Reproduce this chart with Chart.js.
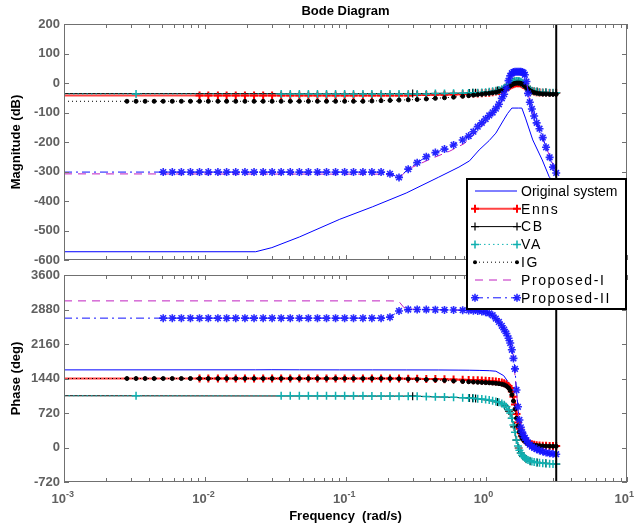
<!DOCTYPE html>
<html>
<head>
<meta charset="utf-8">
<title>Bode Diagram</title>
<script src="https://cdn.jsdelivr.net/npm/chart.js@4.4.1/dist/chart.umd.min.js"></script>
<style>
  html, body { margin: 0; padding: 0; background: #fff; }
  #wrap { position: relative; width: 636px; height: 528px; }
  #wrap canvas { position: absolute; left: 0; top: 0; }
</style>
</head>
<body>
<div id="wrap">
  <canvas id="magChart" width="636" height="528"></canvas>
  <canvas id="phaseChart" width="636" height="528"></canvas>
</div>
<script>
// frequency grid (rad/s) of the reduced models, denser around the resonance
const freq = [
  0.001, 0.0028, 0.00325, 0.00377, 0.00437, 0.00507, 0.00588, 0.00682, 0.00791, 0.00918,
  0.0106, 0.0124, 0.0143, 0.0166, 0.0193, 0.0224, 0.026, 0.0301, 0.0349, 0.0405,
  0.047, 0.0545, 0.0632, 0.0733, 0.085, 0.0986, 0.114, 0.133, 0.154, 0.179,
  0.207, 0.24, 0.279, 0.323, 0.375, 0.435, 0.505, 0.586, 0.68,
  0.75, 0.81, 0.87, 0.93, 0.99, 1.05, 1.11, 1.17, 1.23, 1.29,
  1.34, 1.39, 1.44, 1.48, 1.52, 1.56, 1.6, 1.64, 1.68, 1.72,
  1.76, 1.8, 1.84, 1.88, 1.93, 1.98, 2.04, 2.11, 2.19, 2.28,
  2.39, 2.52, 2.66, 2.82, 2.98, 3.14
];

const ennsMag = [
  -42, -42, -42, -42, -42, -42, -42, -42, -42, -42,
  -42, -42, -42, -42, -42, -42, -42, -42, -42, -42,
  -42, -42, -42, -42, -42, -42, -42, -42, -42, -42,
  -42, -42, -42, -41, -41, -40, -40, -39, -38,
  -37, -36, -36, -35, -34, -33, -31, -29, -27, -24,
  -21, -17, -13, -9, -6, -4, -2, -1, -1, -1,
  -2, -4, -7, -11, -16, -20, -24, -27, -29, -31,
  -32, -33, -33, -34, -34, -34
];
const ennsPhase = [
  1440, 1440, 1440, 1440, 1440, 1440, 1440, 1440, 1440, 1440,
  1440, 1440, 1440, 1440, 1440, 1440, 1440, 1440, 1440, 1440,
  1440, 1440, 1440, 1440, 1440, 1440, 1440, 1440, 1440, 1440,
  1440, 1438, 1436, 1434, 1431, 1428, 1424, 1420, 1415,
  1410, 1406, 1402, 1398, 1393, 1388, 1382, 1375, 1366, 1354,
  1340, 1318, 1285, 1240, 1170, 1060, 900, 700, 520, 390,
  300, 235, 185, 150, 120, 98, 80, 66, 55, 47,
  41, 37, 34, 32, 30, 30
];

const igMag = [
  -62, -62, -62, -62, -62, -62, -62, -62, -62, -62,
  -62, -62, -62, -62, -62, -62, -62, -62, -62, -62,
  -62, -62, -62, -62, -62, -62, -62, -62, -61, -60,
  -59, -58, -57, -56, -54, -52, -50, -48, -45,
  -43, -41, -39, -38, -36, -35, -33, -31, -28, -25,
  -22, -18, -14, -10, -6, -3, -1, 0, 0, 0,
  -1, -3, -6, -10, -15, -20, -25, -29, -32, -34,
  -36, -37, -37, -38, -38, -38
];
const igPhase = [
  1440, 1440, 1440, 1440, 1440, 1440, 1440, 1440, 1440, 1440,
  1440, 1440, 1440, 1440, 1440, 1440, 1440, 1440, 1440, 1440,
  1440, 1440, 1440, 1440, 1440, 1440, 1440, 1440, 1440, 1440,
  1438, 1435, 1430, 1425, 1418, 1410, 1400, 1390, 1378,
  1372, 1367, 1362, 1358, 1354, 1350, 1345, 1340, 1333, 1322,
  1308, 1285, 1245, 1190, 1100, 970, 800, 610, 450, 330,
  250, 195, 155, 125, 100, 82, 68, 57, 48, 42,
  37, 33, 30, 28, 26, 25
];

const vaMag = [
  -37, -37, -37, -37, -37, -37, -37, -37, -37, -37,
  -37, -37, -37, -37, -37, -37, -37, -37, -37, -37,
  -37, -37, -37, -37, -37, -37, -37, -37, -37, -37,
  -37, -37, -37, -37, -37, -36, -36, -35, -35,
  -34, -33, -33, -32, -31, -30, -28, -26, -24, -21,
  -17, -13, -8, -3, 1, 4, 6, 7, 7, 6,
  4, 1, -3, -8, -14, -19, -23, -26, -28, -30,
  -31, -32, -32, -33, -33, -33
];
const vaPhase = [
  1080, 1080, 1080, 1080, 1080, 1080, 1080, 1080, 1080, 1080,
  1080, 1080, 1080, 1080, 1080, 1080, 1080, 1080, 1080, 1080,
  1080, 1080, 1080, 1080, 1080, 1080, 1079, 1078, 1077, 1076,
  1074, 1072, 1070, 1067, 1064, 1060, 1055, 1048, 1040,
  1034, 1028, 1020, 1012, 1002, 990, 976, 960, 942, 920,
  890, 850, 790, 720, 610, 470, 320, 155, 30, -55,
  -115, -160, -195, -220, -245, -262, -277, -290, -302, -312,
  -320, -327, -333, -338, -342, -345
];

const prop2Mag = [
  -302, -302, -302, -302, -302, -302, -302, -302, -302, -302,
  -302, -302, -302, -302, -302, -302, -302, -302, -302, -302,
  -302, -302, -302, -302, -302, -302, -302, -302, -302, -302,
  -308, -320, -292, -270, -250, -236, -224, -210, -193,
  -180, -165, -148, -135, -122, -110, -100, -87, -72, -52,
  -38, -18, 8, 24, 33, 37, 38, 38, 38, 38,
  38, 37, 35, 28, 5, -35, -65, -88, -112, -135,
  -155, -185, -218, -252, -285, -305
];
const prop2Phase = [
  2700, 2700, 2700, 2700, 2700, 2700, 2700, 2700, 2700, 2700,
  2700, 2700, 2700, 2700, 2700, 2700, 2700, 2700, 2700, 2700,
  2700, 2700, 2700, 2700, 2700, 2700, 2700, 2700, 2700, 2700,
  2720, 2850, 2880, 2880, 2878, 2875, 2872, 2870, 2865,
  2860, 2855, 2850, 2840, 2825, 2800, 2760, 2690, 2620, 2540,
  2460, 2380, 2280, 2180, 2040, 1860, 1640, 1200, 850, 575,
  420, 320, 250, 200, 150, 100, 60, 20, -5, -35,
  -60, -85, -105, -120, -132, -140
];

// CB model: coarse grid
const cbFreq = [0.001, 0.3, 0.76, 0.8, 0.84, 1.2, 1.35, 1.45, 1.52, 1.58, 1.64, 1.7, 1.76, 1.83, 1.92, 2.05, 2.3, 2.65, 3.14];
const cbMag = [-36, -36, -34, -33, -33, -25, -16, -6, 1, 5, 6, 5, 2, -4, -13, -22, -29, -32, -33];
const cbPhase = [1080, 1072, 1034, 1028, 1022, 950, 870, 760, 610, 430, 155, -10, -115, -185, -240, -285, -312, -330, -345];

// Proposed-I model
const prop1Freq = [0.001, 0.2, 0.22, 0.24, 0.26, 0.3, 0.4, 0.55, 0.7, 0.85, 1.0, 1.15, 1.3, 1.45, 1.55, 1.7, 1.85, 1.95, 2.05, 2.3, 2.6, 2.9, 3.14];
const prop1Mag = [-308, -309, -313, -324, -306, -285, -258, -231, -205, -165, -130, -98, -58, 15, 34, 36, 32, -5, -72, -142, -205, -262, -308];
const prop1Phase = [3060, 3060, 3058, 3045, 2920, 2885, 2878, 2872, 2864, 2850, 2825, 2700, 2520, 2260, 1950, 650, 250, 150, 70, -20, -90, -125, -140];

// full-order system
const origFreq = [0.001, 0.023, 0.03, 0.047, 0.091, 0.155, 0.27, 0.46, 0.64, 0.76, 0.89, 1.05, 1.17, 1.33, 1.42, 1.52, 1.6, 1.7, 1.79, 1.9, 2.14, 2.5, 2.8, 3.14];
const origMag = [-572, -572, -558, -522, -462, -420, -373, -319, -285, -264, -227, -195, -170, -125, -103, -85, -85, -85, -85, -119, -193, -261, -318, -345];
const origPhase = [1620, 1621, 1623, 1621, 1620, 1620, 1619, 1618, 1615, 1613, 1609, 1603, 1592, 1500, 1380, 1150, 850, 420, 220, 90, -40, -110, -140, -160];

const magTicks = [-600, -500, -400, -300, -200, -100, 0, 100, 200];
const phaseTicks = [-720, 0, 720, 1440, 2160, 2880, 3600];
const decadeExps = [-3, -2, -1, 0, 1];
const minorMults = [2, 3, 4, 5, 6, 7, 8, 9];
const nyquistFreq = Math.PI;

const FONT = "'Liberation Sans', Arial, Helvetica, sans-serif";
Chart.defaults.font.family = FONT;

// line / marker look of each model, in plotting order
const models = [
  { label: 'Original system', f: origFreq, mag: origMag, ph: origPhase,
    color: '#0000ff', width: 1, dash: [], marker: null },
  { label: 'Enns', f: freq, mag: ennsMag, ph: ennsPhase,
    color: 'rgba(255,20,20,0.8)', width: 2, dash: [], marker: 'cross', mColor: '#ff0000', mSize: 4, mWidth: 2,
    showMark: f => f >= 0.009 },
  { label: 'CB', f: cbFreq, mag: cbMag, ph: cbPhase,
    color: '#000000', width: 1, dash: [], marker: 'cross', mColor: '#000000', mSize: 4, mWidth: 1.2,
    showMark: f => f > 0.2 },
  { label: 'VA', f: freq, mag: vaMag, ph: vaPhase,
    color: '#10b4b4', width: 1, dash: [1.5, 3], marker: 'cross', mColor: '#10b0b0', mSize: 4, mWidth: 1.5,
    showMark: f => (f > 0.003 && f < 0.0034) || f >= 0.034 },
  { label: 'IG', f: freq, mag: igMag, ph: igPhase,
    color: '#000000', width: 1, dash: [1, 3], marker: 'circle', mColor: '#000000', mSize: 2, mWidth: 0,
    showMark: f => f >= 0.0027 },
  { label: 'Proposed-I', f: prop1Freq, mag: prop1Mag, ph: prop1Phase,
    color: '#c020c0', width: 1, dash: [8, 6], marker: null },
  { label: 'Proposed-II', f: freq, mag: prop2Mag, ph: prop2Phase,
    color: '#1010ff', width: 1, dash: [8, 4, 2, 4], marker: 'star', mColor: 'rgba(20,20,255,0.9)', mSize: 4, mWidth: 1.6,
    showMark: f => f >= 0.005 }
];

function buildDatasets(key) {
  return models.map((m, i) => ({
    label: m.label,
    data: m.f.map((f, j) => ({ x: f, y: m[key][j] })),
    borderColor: m.color,
    borderWidth: m.width,
    borderDash: m.dash,
    tension: 0,
    fill: false,
    order: models.length - i,
    pointStyle: m.marker || 'circle',
    pointBorderColor: m.mColor || m.color,
    pointBackgroundColor: m.mColor || m.color,
    pointBorderWidth: m.mWidth || 1,
    pointRadius: c => (m.marker && c.type === 'data' && m.showMark(c.raw.x)) ? m.mSize : 0
  }));
}

function strokeLine(ctx, x1, y1, x2, y2) {
  ctx.beginPath(); ctx.moveTo(x1, y1); ctx.lineTo(x2, y2); ctx.stroke();
}

// MATLAB-style box: inward ticks on all sides plus the Nyquist frequency line
const axesBox = {
  id: 'axesBox',
  afterDatasetsDraw(chart) {
    const { ctx, chartArea: a, scales: { x, y } } = chart;
    ctx.save();
    ctx.setLineDash([]);
    const xn = x.getPixelForValue(nyquistFreq);
    ctx.strokeStyle = '#000'; ctx.lineWidth = 2;
    strokeLine(ctx, xn, a.top, xn, a.bottom);

    ctx.strokeStyle = '#707070'; ctx.lineWidth = 1;
    ctx.strokeRect(a.left + 0.5, a.top + 0.5, a.width - 1, a.height - 1);
    y.ticks.forEach(t => {
      const py = Math.round(y.getPixelForValue(t.value)) + 0.5;
      strokeLine(ctx, a.left, py, a.left + 5, py);
      strokeLine(ctx, a.right - 5, py, a.right, py);
    });
    decadeExps.forEach(e => {
      const base = Math.pow(10, e);
      [1].concat(e < 1 ? minorMults : []).forEach(m => {
        const px = Math.round(x.getPixelForValue(base * m)) + 0.5;
        const len = m === 1 ? 5 : 4;
        strokeLine(ctx, px, a.top, px, a.top + len);
        strokeLine(ctx, px, a.bottom - len, px, a.bottom);
      });
    });
    ctx.restore();
  }
};

function drawYTitle(ctx, text, x, cy) {
  ctx.save();
  ctx.translate(x, cy);
  ctx.rotate(-Math.PI / 2);
  ctx.font = 'bold 13px ' + FONT;
  ctx.fillStyle = '#000';
  ctx.textAlign = 'center';
  ctx.textBaseline = 'alphabetic';
  ctx.fillText(text, 0, 0);
  ctx.restore();
}

const magText = {
  id: 'magText',
  afterDraw(chart) {
    const { ctx, chartArea: a } = chart;
    ctx.save();
    ctx.font = 'bold 13px ' + FONT;
    ctx.fillStyle = '#000';
    ctx.textAlign = 'center';
    ctx.fillText('Bode Diagram', (a.left + a.right) / 2, 15);
    ctx.restore();
    drawYTitle(ctx, 'Magnitude (dB)', 20, (a.top + a.bottom) / 2);
  }
};

function drawMarker(ctx, style, x, y, r) {
  ctx.beginPath();
  if (style === 'circle') {
    ctx.arc(x, y, r, 0, Math.PI * 2);
    ctx.fill();
    return;
  }
  ctx.moveTo(x - r, y); ctx.lineTo(x + r, y);
  ctx.moveTo(x, y - r); ctx.lineTo(x, y + r);
  if (style === 'star') {
    const d = r * Math.SQRT1_2;
    ctx.moveTo(x - d, y - d); ctx.lineTo(x + d, y + d);
    ctx.moveTo(x - d, y + d); ctx.lineTo(x + d, y - d);
  }
  ctx.stroke();
}

const phaseText = {
  id: 'phaseText',
  afterDraw(chart) {
    const { ctx, chartArea: a, scales: { x } } = chart;
    ctx.save();
    // decade labels 10^n
    ctx.fillStyle = '#606060';
    decadeExps.forEach(e => {
      const px = x.getPixelForValue(Math.pow(10, e));
      ctx.font = 'bold 13px ' + FONT;
      ctx.textAlign = 'right';
      ctx.fillText('10', px + 2, 503);
      ctx.font = 'bold 9px ' + FONT;
      ctx.textAlign = 'left';
      ctx.fillText(String(e), px + 2, 497);
    });
    ctx.fillStyle = '#000';
    ctx.font = 'bold 13px ' + FONT;
    ctx.textAlign = 'center';
    ctx.fillText('Frequency  (rad/s)', (a.left + a.right) / 2, 520);
    ctx.restore();
    drawYTitle(ctx, 'Phase (deg)', 20, (a.top + a.bottom) / 2);

    // legend shared by both panels
    const lx = 467, ly = 179, lw = 159, lh = 130, row = 17.8;
    ctx.save();
    ctx.fillStyle = '#fff';
    ctx.fillRect(lx, ly, lw, lh);
    ctx.strokeStyle = '#000'; ctx.lineWidth = 2;
    ctx.strokeRect(lx, ly, lw, lh);
    models.forEach((m, i) => {
      const cy = ly + 12 + i * row;
      ctx.strokeStyle = m.color; ctx.lineWidth = m.width;
      ctx.setLineDash(m.dash);
      strokeLine(ctx, 475, cy, 517, cy);
      ctx.setLineDash([]);
      if (m.marker) {
        ctx.strokeStyle = m.mColor; ctx.fillStyle = m.mColor; ctx.lineWidth = m.mWidth || 1;
        drawMarker(ctx, m.marker, 475, cy, m.mSize);
        drawMarker(ctx, m.marker, 517, cy, m.mSize);
      }
      ctx.fillStyle = '#000';
      ctx.font = '14px ' + FONT;
      ctx.textAlign = 'left';
      ctx.textBaseline = 'middle';
      ctx.letterSpacing = i === 0 ? '0px' : '1.6px';
      ctx.fillText(m.label, 521, cy + 1);
    });
    ctx.restore();
  }
};

function yAxis(ticks) {
  return {
    min: ticks[0],
    max: ticks[ticks.length - 1],
    afterBuildTicks: s => { s.ticks = ticks.map(v => ({ value: v })); },
    afterFit: s => { s.width = 64; },
    grid: { display: false, drawTicks: false },
    border: { display: false },
    ticks: {
      color: '#606060',
      font: { size: 13, weight: 'bold' },
      padding: 4,
      callback: v => String(v)
    }
  };
}

function makeChart(id, key, ticks, padding, extra) {
  return new Chart(document.getElementById(id), {
    type: 'line',
    data: { datasets: buildDatasets(key) },
    options: {
      responsive: false,
      animation: false,
      devicePixelRatio: 1,
      events: [],
      layout: { padding },
      plugins: { legend: { display: false }, tooltip: { enabled: false } },
      scales: {
        x: { type: 'logarithmic', min: 0.001, max: 10, display: false },
        y: yAxis(ticks)
      }
    },
    plugins: [axesBox, extra]
  });
}

makeChart('magChart', 'mag', magTicks, { left: 0, right: 9, top: 24, bottom: 268 }, magText);
makeChart('phaseChart', 'ph', phaseTicks, { left: 0, right: 9, top: 275, bottom: 46 }, phaseText);
</script>
</body>
</html>
